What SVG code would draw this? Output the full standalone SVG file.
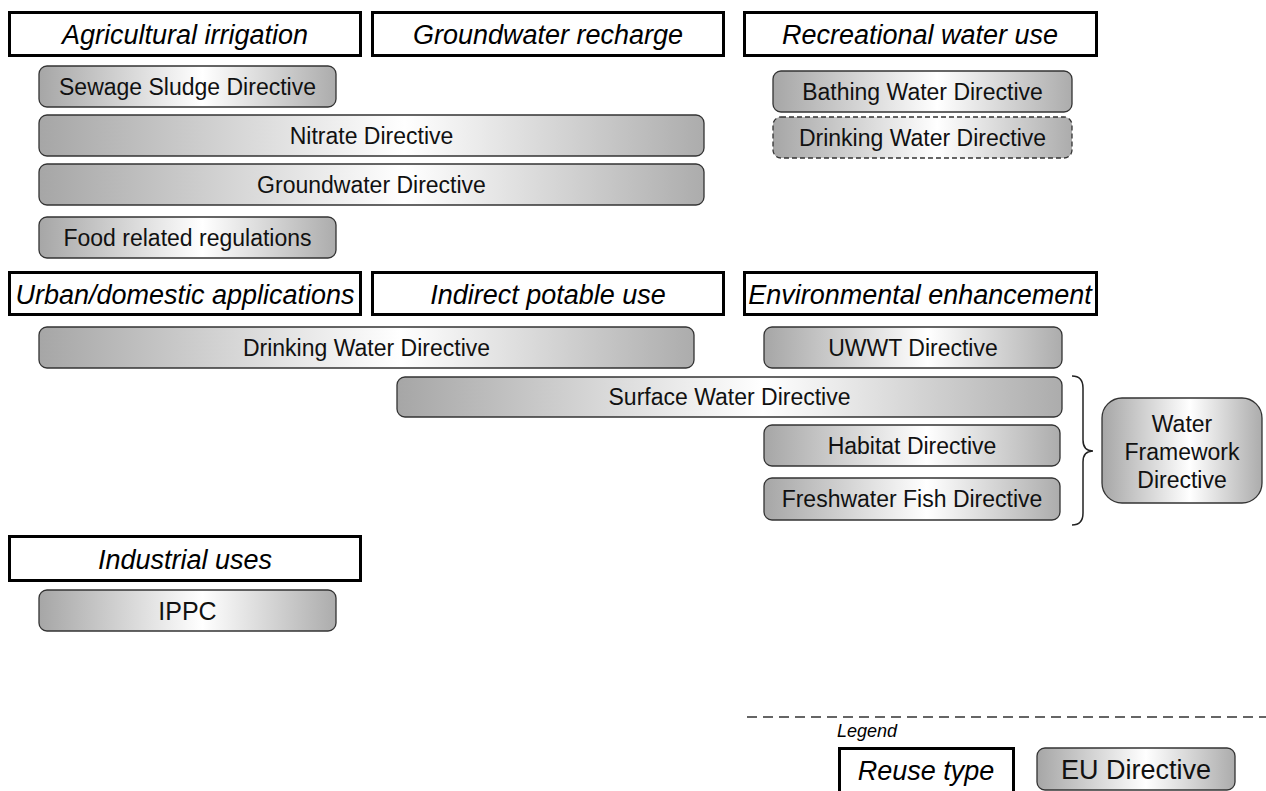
<svg xmlns="http://www.w3.org/2000/svg" width="1266" height="791" viewBox="0 0 1266 791">
  <style>
    .hdr { fill: #ffffff; stroke: #000000; stroke-width: 3; }
    .hdr-t { font-family: "Liberation Sans", Arial, sans-serif; font-style: italic; font-size: 27px; fill: #000000; text-anchor: middle; }
    .dir { fill: url(#dirFill); stroke: #333333; stroke-width: 1.3; }
    .dir-dash { fill: url(#dirFill); stroke: #333333; stroke-width: 1.3; stroke-dasharray: 5 3; }
    .dir-t { font-family: "Liberation Sans", Arial, sans-serif; font-size: 23px; fill: #111111; text-anchor: middle; }
    .brace { fill: none; stroke: #222222; stroke-width: 1.5; }
    .legend-line { fill: none; stroke: #333333; stroke-width: 1.5; stroke-dasharray: 10 6; }
  </style>
  <defs>
    <linearGradient id="dirFill" x1="0" y1="0" x2="1" y2="0">
      <stop offset="0" stop-color="#a6a6a6"/>
      <stop offset="0.55" stop-color="#ffffff"/>
      <stop offset="1" stop-color="#acacac"/>
    </linearGradient>
  </defs>
  <rect width="1266" height="791" fill="#ffffff"/>

  <!-- Reuse types, first row -->
  <g id="agricultural-irrigation">
    <rect class="hdr" x="9.5" y="12.5" width="351" height="43"/>
    <text class="hdr-t" x="185" y="44">Agricultural irrigation</text>
  </g>
  <g id="groundwater-recharge">
    <rect class="hdr" x="372.5" y="12.5" width="351" height="43"/>
    <text class="hdr-t" x="548" y="44">Groundwater recharge</text>
  </g>
  <g id="recreational-water-use">
    <rect class="hdr" x="744.5" y="12.5" width="352" height="43"/>
    <text class="hdr-t" x="920" y="44">Recreational water use</text>
  </g>

  <!-- Directives under the first row -->
  <g id="sewage-sludge">
    <rect class="dir" x="39" y="66" width="297" height="41" rx="8"/>
    <text class="dir-t" x="187.5" y="95">Sewage Sludge Directive</text>
  </g>
  <g id="nitrate">
    <rect class="dir" x="39" y="115" width="665" height="41" rx="8"/>
    <text class="dir-t" x="371.5" y="144">Nitrate Directive</text>
  </g>
  <g id="groundwater-directive">
    <rect class="dir" x="39" y="164" width="665" height="41" rx="8"/>
    <text class="dir-t" x="371.5" y="193">Groundwater Directive</text>
  </g>
  <g id="food-regulations">
    <rect class="dir" x="39" y="217" width="297" height="41" rx="8"/>
    <text class="dir-t" x="187.5" y="246">Food related regulations</text>
  </g>
  <g id="bathing-water">
    <rect class="dir" x="773" y="71" width="299" height="41" rx="8"/>
    <text class="dir-t" x="922.5" y="100">Bathing Water Directive</text>
  </g>
  <g id="drinking-water-recreational">
    <rect class="dir-dash" x="773" y="117" width="299" height="41" rx="8"/>
    <text class="dir-t" x="922.5" y="146">Drinking Water Directive</text>
  </g>

  <!-- Reuse types, second row -->
  <g id="urban-domestic">
    <rect class="hdr" x="9.5" y="272.5" width="351" height="42"/>
    <text class="hdr-t" x="185" y="304">Urban/domestic applications</text>
  </g>
  <g id="indirect-potable">
    <rect class="hdr" x="372.5" y="272.5" width="351" height="42"/>
    <text class="hdr-t" x="548" y="304">Indirect potable use</text>
  </g>
  <g id="environmental-enhancement">
    <rect class="hdr" x="744.5" y="272.5" width="352" height="42"/>
    <text class="hdr-t" x="920" y="304">Environmental enhancement</text>
  </g>

  <!-- Directives under the second row -->
  <g id="drinking-water">
    <rect class="dir" x="39" y="327" width="655" height="41" rx="8"/>
    <text class="dir-t" x="366.5" y="356">Drinking Water Directive</text>
  </g>
  <g id="uwwt">
    <rect class="dir" x="764" y="327" width="298" height="41" rx="8"/>
    <text class="dir-t" x="913" y="356">UWWT Directive</text>
  </g>
  <g id="surface-water">
    <rect class="dir" x="397" y="377" width="665" height="40" rx="8"/>
    <text class="dir-t" x="729.5" y="405">Surface Water Directive</text>
  </g>
  <g id="habitat">
    <rect class="dir" x="764" y="425" width="296" height="41" rx="8"/>
    <text class="dir-t" x="912" y="454">Habitat Directive</text>
  </g>
  <g id="freshwater-fish">
    <rect class="dir" x="764" y="478" width="296" height="42" rx="8"/>
    <text class="dir-t" x="912" y="507">Freshwater Fish Directive</text>
  </g>
  <g id="water-framework">
    <rect class="dir" x="1102" y="398" width="160" height="105" rx="20"/>
    <text class="dir-t" x="1182" y="432">Water</text>
    <text class="dir-t" x="1182" y="460">Framework</text>
    <text class="dir-t" x="1182" y="488">Directive</text>
  </g>

  <!-- Grouping brace -->
  <g id="connectors">
    <path class="brace" d="M1072,376 Q1083,376 1083,388 L1083,440 Q1083,451 1093,451 Q1083,451 1083,462 L1083,513 Q1083,525 1072,525"/>
  </g>

  <!-- Industrial uses -->
  <g id="industrial-uses">
    <rect class="hdr" x="9.5" y="536.5" width="351" height="44"/>
    <text class="hdr-t" x="185" y="569">Industrial uses</text>
  </g>
  <g id="ippc">
    <rect class="dir" x="39" y="590" width="297" height="41" rx="8"/>
    <text class="dir-t" x="187.5" y="620" style="font-size:25px">IPPC</text>
  </g>

  <!-- Legend -->
  <g id="legend">
    <line class="legend-line" x1="747" y1="717" x2="1266" y2="717"/>
    <text x="837" y="737" font-family="Liberation Sans, Arial, sans-serif" font-style="italic" font-size="18" fill="#000000">Legend</text>
    <g id="legend-reuse-type">
      <rect class="hdr" x="839.5" y="748.5" width="174" height="60"/>
      <text class="hdr-t" x="926" y="780">Reuse type</text>
    </g>
    <g id="legend-eu-directive">
      <rect class="dir" x="1037" y="748" width="198" height="42" rx="8"/>
      <text class="dir-t" x="1136" y="779" style="font-size:27px">EU Directive</text>
    </g>
  </g>
</svg>
